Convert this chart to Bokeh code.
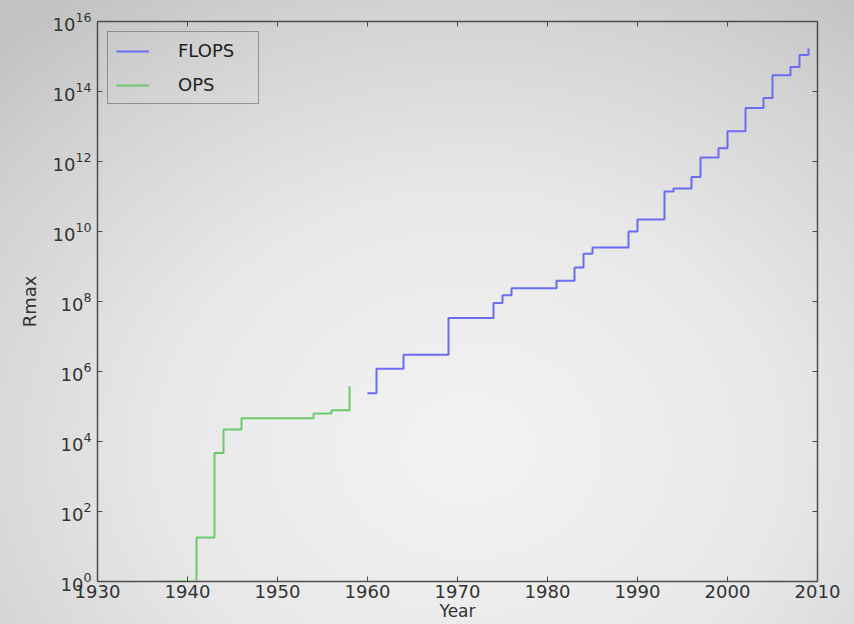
from bokeh.plotting import figure
from bokeh.models import Range1d, FixedTicker, LinearAxis, LogAxis, CustomJSTickFormatter
from bokeh.embed import file_html
from bokeh.resources import INLINE

# Data (post-step: value holds from year until next year)
flops_years = [1960, 1961, 1964, 1969, 1974, 1975, 1976, 1981, 1983, 1984, 1985,
               1989, 1990, 1993, 1994, 1996, 1997, 1999, 2000, 2002, 2004, 2005,
               2007, 2008, 2009]
flops_values = [2.4e5, 1.2e6, 3.0e6, 3.4e7, 9.0e7, 1.5e8, 2.4e8, 3.9e8, 9.4e8, 2.3e9,
                3.5e9, 1.0e10, 2.2e10, 1.4e11, 1.7e11, 3.6e11, 1.3e12, 2.4e12, 7.3e12,
                3.4e13, 6.5e13, 2.9e14, 5.0e14, 1.1e15, 1.7e15]
ops_years = [1938, 1941, 1943, 1944, 1946, 1954, 1956, 1958]
ops_values = [1, 18, 4.7e3, 2.2e4, 4.6e4, 6.3e4, 7.8e4, 3.8e5]

x_ticks = [1930, 1940, 1950, 1960, 1970, 1980, 1990, 2000, 2010]
y_ticks = [10.0**k for k in range(0, 17, 2)]

FONT = "DejaVu Sans"
TXT = "#333333"
AX = "#4d4d4d"

p = figure(width=854, height=624, output_backend="svg", toolbar_location=None,
           y_axis_type="log",
           x_range=Range1d(1930, 2010), y_range=Range1d(1.0, 1e16),
           min_border_left=97, min_border_right=37, min_border_top=21,
           min_border_bottom=43)

p.styles = {"background-image":
            "radial-gradient(ellipse 80% 90% at 55% 72%, #f3f3f3 0%, #e8e8e8 45%, #d2d2d2 80%, #c2c2c2 100%)"}
p.border_fill_color = None
p.background_fill_color = None
p.outline_line_color = AX
p.outline_line_width = 1.5
p.grid.visible = False

p.step(flops_years, flops_values, mode="after", line_color="#6b6bf5",
       line_width=2, legend_label="FLOPS")
p.step(ops_years, ops_values, mode="after", line_color="#6cc96c",
       line_width=2, legend_label="OPS")

def style_axis(ax, show_labels=True):
    ax.axis_line_color = AX
    ax.major_tick_line_color = AX
    ax.major_tick_in = 5
    ax.major_tick_out = 0
    ax.minor_tick_line_color = None
    if show_labels:
        ax.major_label_text_font = FONT
        ax.major_label_text_font_size = "18px"
        ax.major_label_text_color = TXT
    else:
        ax.formatter = CustomJSTickFormatter(code="return ''")
        ax.major_label_standoff = 0

xa = p.xaxis[0]
xa.ticker = FixedTicker(ticks=x_ticks)
style_axis(xa)
xa.major_label_standoff = 3
xa.axis_label = "Year"
xa.axis_label_text_font = FONT
xa.axis_label_text_font_size = "17px"
xa.axis_label_text_font_style = "normal"
xa.axis_label_text_color = TXT
xa.axis_label_standoff = 0

ya = p.yaxis[0]
ya.ticker = FixedTicker(ticks=y_ticks)
style_axis(ya)
ya.major_label_standoff = 6
ya.axis_label = "Rmax"
ya.axis_label_text_font = FONT
ya.axis_label_text_font_size = "18px"
ya.axis_label_text_font_style = "normal"
ya.axis_label_text_color = TXT
ya.axis_label_standoff = 10

top = LinearAxis(ticker=FixedTicker(ticks=x_ticks))
style_axis(top, show_labels=False)
p.add_layout(top, "above")
right = LogAxis(ticker=FixedTicker(ticks=y_ticks))
style_axis(right, show_labels=False)
p.add_layout(right, "right")

lg = p.legend[0]
lg.location = "top_left"
lg.margin = 10
lg.padding = 8
lg.spacing = 13
lg.glyph_width = 33
lg.glyph_height = 20
lg.label_height = 20
lg.label_width = 72
lg.label_standoff = 29
lg.label_text_font = FONT
lg.label_text_font_size = "18px"
lg.label_text_color = "#222222"
lg.border_line_color = AX
lg.border_line_width = 1.5
lg.background_fill_alpha = 0

open("out.html", "w").write(file_html(p, INLINE))
